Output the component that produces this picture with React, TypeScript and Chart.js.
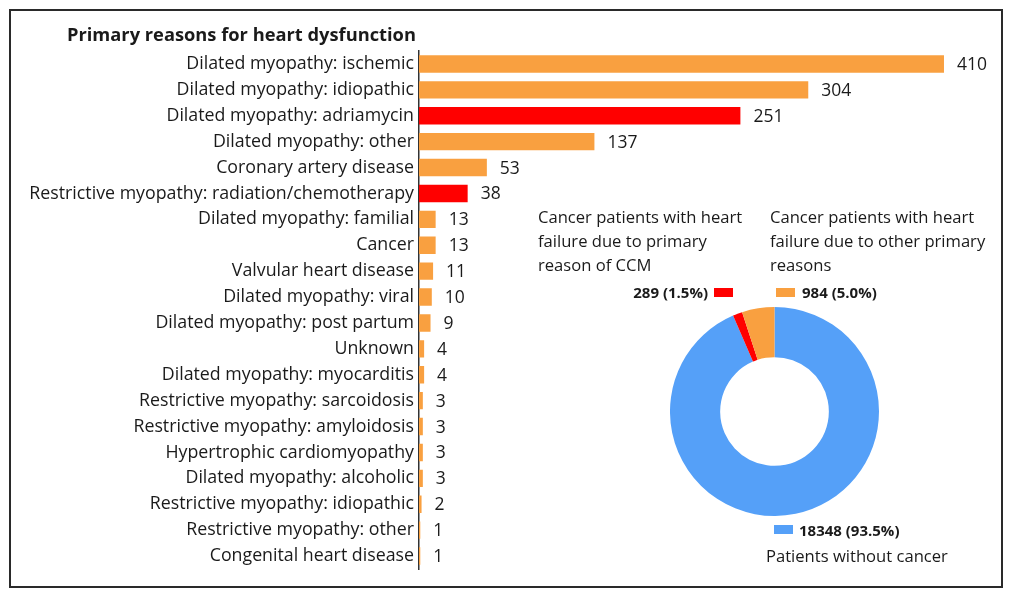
import React, { useEffect, useRef } from "react";
import { Chart, registerables } from "chart.js";

Chart.register(...registerables);

const categories = [
  "Dilated myopathy: ischemic",
  "Dilated myopathy: idiopathic",
  "Dilated myopathy: adriamycin",
  "Dilated myopathy: other",
  "Coronary artery disease",
  "Restrictive myopathy: radiation/chemotherapy",
  "Dilated myopathy: familial",
  "Cancer",
  "Valvular heart disease",
  "Dilated myopathy: viral",
  "Dilated myopathy: post partum",
  "Unknown",
  "Dilated myopathy: myocarditis",
  "Restrictive myopathy: sarcoidosis",
  "Restrictive myopathy: amyloidosis",
  "Hypertrophic cardiomyopathy",
  "Dilated myopathy: alcoholic",
  "Restrictive myopathy: idiopathic",
  "Restrictive myopathy: other",
  "Congenital heart disease",
];
const counts = [410, 304, 251, 137, 53, 38, 13, 13, 11, 10, 9, 4, 4, 3, 3, 3, 3, 2, 1, 1];
const ccmCategories = ["Dilated myopathy: adriamycin", "Restrictive myopathy: radiation/chemotherapy"];

const pieLabels = ["Patients without cancer", "Cancer patients with heart failure due to primary reason of CCM", "Cancer patients with heart failure due to other primary reasons"];
const pieValues = [18348, 289, 984];

const ORANGE = "#F9A040";
const RED = "#FF0000";
const BLUE = "#55A0F8";
const FONT = "'Open Sans', 'Noto Sans', sans-serif";
const TEXT = "#1a1a1a";

const total = pieValues.reduce((a, b) => a + b, 0);
const pct = (v: number) => `${v} (${((v / total) * 100).toFixed(1)}%)`;

export default function App() {
  const barRef = useRef<HTMLCanvasElement>(null);
  const pieRef = useRef<HTMLCanvasElement>(null);

  useEffect(() => {
    document.body.style.margin = "0";
    const valuePlugin = {
      id: "valueLabels",
      afterDatasetsDraw(chart: any) {
        const ctx = chart.ctx;
        const meta = chart.getDatasetMeta(0);
        ctx.save();
        ctx.font = `17.5px ${FONT}`;
        ctx.fillStyle = TEXT;
        ctx.textAlign = "left";
        ctx.textBaseline = "middle";
        meta.data.forEach((bar: any, i: number) => {
          ctx.fillText(String(counts[i]), bar.x + 13, bar.y + 1);
        });
        ctx.restore();
      },
    };
    const bar = new Chart(barRef.current!, {
      type: "bar",
      data: {
        labels: categories,
        datasets: [
          {
            data: counts,
            backgroundColor: categories.map((c) => (ccmCategories.includes(c) ? RED : ORANGE)),
            borderWidth: 0,
            categoryPercentage: 1,
            barPercentage: 0.67,
          },
        ],
      },
      options: {
        indexAxis: "y",
        animation: false,
        responsive: false,
        maintainAspectRatio: false,
        layout: { padding: { left: 0, right: 30.6, top: 51, bottom: 29 } },
        plugins: { legend: { display: false }, tooltip: { enabled: false }, title: { display: false } },
        scales: {
          x: { display: false, min: 0, max: 440 },
          y: {
            afterFit: (s: any) => {
              s.width = 419;
            },
            grid: { display: false, drawTicks: false },
            border: { display: true, color: "#333", width: 1.5 },
            ticks: { color: TEXT, font: { family: FONT, size: 17.8 }, padding: 5 },
          },
        },
      },
      plugins: [valuePlugin],
    } as any);

    const pie = new Chart(pieRef.current!, {
      type: "doughnut",
      data: {
        labels: pieLabels,
        datasets: [
          {
            data: pieValues,
            backgroundColor: [BLUE, RED, ORANGE],
            borderWidth: 0,
          },
        ],
      },
      options: {
        animation: false,
        responsive: false,
        cutout: "52%",
        rotation: 0,
        plugins: { legend: { display: false }, tooltip: { enabled: false } },
      },
    } as any);
    return () => {
      bar.destroy();
      pie.destroy();
    };
  }, []);

  const txt: React.CSSProperties = {
    position: "absolute",
    fontFamily: FONT,
    fontSize: 16.6,
    lineHeight: "24px",
    color: TEXT,
    whiteSpace: "nowrap",
  };
  const sw = (left: number, top: number, color: string): React.CSSProperties => ({
    position: "absolute",
    left,
    top,
    width: 19,
    height: 9,
    background: color,
  });

  return (
    <div style={{ position: "relative", width: 1013, height: 598, background: "#fff", overflow: "hidden" }}>
      <div
        style={{
          position: "absolute",
          left: 9,
          top: 9,
          width: 990,
          height: 575,
          border: "2px solid #2a2a2a",
        }}
      />
      <canvas ref={barRef} width={1013} height={598} style={{ position: "absolute", left: 0, top: 0 }} />
      <canvas ref={pieRef} width={209} height={209} style={{ position: "absolute", left: 670, top: 307 }} />
      <div style={{ ...txt, left: 67, top: 22, fontWeight: "bold", fontSize: 18.3 }}>Primary reasons for heart dysfunction</div>
      <div style={{ ...txt, left: 538, top: 205 }}>
        Cancer patients with heart
        <br />
        failure due to primary
        <br />
        reason of CCM
      </div>
      <div style={{ ...txt, left: 770, top: 205 }}>
        Cancer patients with heart
        <br />
        failure due to other primary
        <br />
        reasons
      </div>
      <div style={{ ...txt, right: 1013 - 708, top: 280, fontWeight: "bold", fontSize: 15 }}>{pct(pieValues[1])}</div>
      <div style={sw(714, 288, RED)} />
      <div style={sw(776, 288, ORANGE)} />
      <div style={{ ...txt, left: 802, top: 280, fontWeight: "bold", fontSize: 15 }}>{pct(pieValues[2])}</div>
      <div style={sw(774, 525, BLUE)} />
      <div style={{ ...txt, left: 799, top: 518, fontWeight: "bold", fontSize: 15 }}>{pct(pieValues[0])}</div>
      <div style={{ ...txt, left: 766, top: 544 }}>Patients without cancer</div>
    </div>
  );
}
